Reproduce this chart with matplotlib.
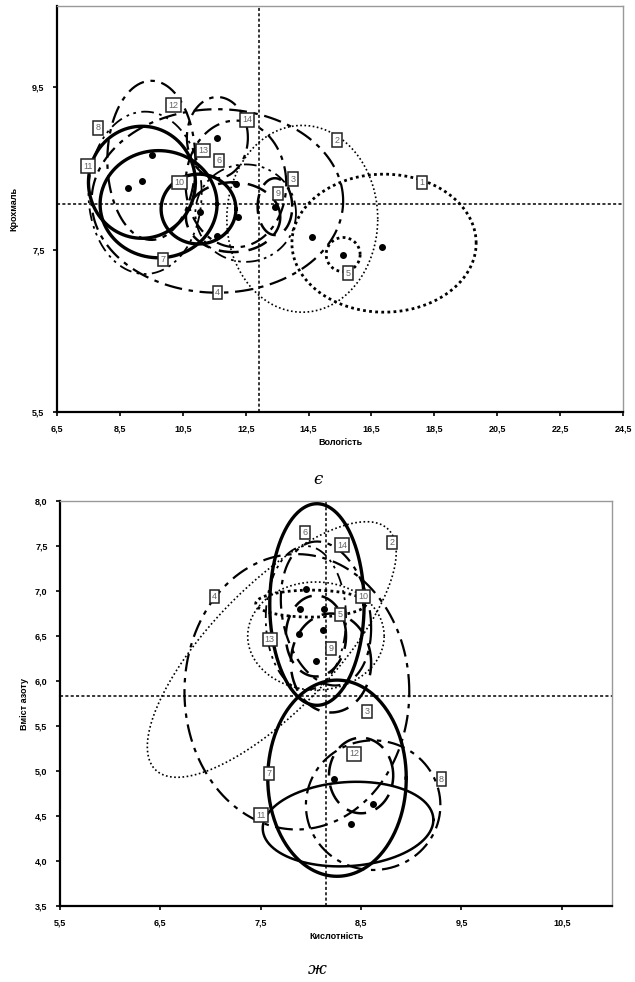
import matplotlib
matplotlib.use("Agg")
import matplotlib.pyplot as plt
import numpy as np
from matplotlib.ticker import FuncFormatter

plt.rcParams['font.family'] = ['Liberation Sans', 'DejaVu Sans']

# --- панель "є": вологість / крохмаль ---
top_ids = [1, 2, 3, 4, 5, 6, 7, 8, 9, 10, 11, 12, 13, 14]
top_cx = [16.9, 14.3, 12.5, 11.6, 15.6, 12.1, 9.73, 9.3, 13.43, 11.0, 9.2, 9.5, 12.19, 11.6]
top_cy = [7.58, 7.88, 7.95, 8.1, 7.44, 7.9, 8.06, 8.2, 8.03, 8.0, 8.33, 8.6, 8.31, 8.88]
top_sx = [2.93, 2.4, 1.6, 4.0, 0.54, 1.5, 1.86, 1.8, 0.55, 1.19, 1.7, 1.4, 1.6, 0.97]
top_sy = [0.85, 1.15, 0.6, 1.13, 0.21, 0.43, 0.66, 1.0, 0.35, 0.43, 0.69, 0.98, 0.78, 0.5]
top_r = [0, 0, 0, 0, 0, 0, 0, 0, 0, 0, 0, 0, 0, 0]
top_lab_x = [18.1, 15.4, 14.0, 11.6, 15.75, 11.65, 9.87, 7.8, 13.53, 10.4, 7.49, 10.2, 11.14, 12.54]
top_lab_y = [8.33, 8.85, 8.37, 6.97, 7.21, 8.6, 7.38, 9.0, 8.19, 8.33, 8.53, 9.28, 8.72, 9.1]
top_pt_x = [9.2, 9.52, 8.75, 11.59, 11.05, 12.19, 12.26, 11.59, 13.43, 14.6, 15.58, 16.83]
top_pt_y = [8.35, 8.66, 8.26, 8.88, 7.96, 8.31, 7.9, 7.67, 8.03, 7.66, 7.44, 7.53]
top_vline, top_hline = 12.93, 8.06

# --- панель "ж": кислотність / вміст азоту ---
bot_ids = [2, 3, 4, 5, 6, 7, 8, 9, 10, 11, 12, 13, 14]
bot_cx = [7.61, 8.2, 7.86, 8.0, 8.06, 8.26, 8.62, 8.05, 8.05, 8.37, 8.5, 7.95, 8.15]
bot_cy = [6.35, 6.2, 5.88, 6.86, 6.85, 4.92, 4.62, 6.5, 6.5, 4.41, 4.95, 6.7, 6.75]
bot_sx = [1.24, 0.4, 1.12, 0.55, 0.47, 0.69, 0.67, 0.3, 0.68, 0.85, 0.32, 0.4, 0.45]
bot_sy = [1.42, 0.55, 1.53, 0.15, 1.12, 1.09, 0.72, 0.45, 0.6, 0.47, 0.42, 0.8, 0.8]
bot_r = [0.76, 0, 0, 0, 0, 0, 0, 0, 0, 0.1, 0, 0, -0.2]
bot_lab_x = [8.81, 8.56, 7.04, 8.29, 7.94, 7.58, 9.3, 8.2, 8.52, 7.5, 8.43, 7.59, 8.31]
bot_lab_y = [7.54, 5.66, 6.94, 6.74, 7.65, 4.97, 4.91, 6.36, 6.94, 4.51, 5.19, 6.46, 7.51]
bot_pt_x = [7.95, 7.89, 7.88, 8.05, 8.13, 8.12, 8.23, 8.62, 8.40]
bot_pt_y = [7.02, 6.8, 6.52, 6.22, 6.8, 6.57, 4.91, 4.63, 4.41]
bot_vline, bot_hline = 8.15, 5.83

# стилі ліній для кожного номера
dotted_big = dict(ls=(0, (1, 1.2)), lw=2.0)
dotted_fine = dict(ls=(0, (1, 1.5)), lw=1.2)
dashdot = dict(ls=(0, (8, 3, 2, 3)), lw=1.6)
dashdotdot = dict(ls=(0, (7, 3, 1.5, 2.5, 1.5, 3)), lw=1.3)
dashed = dict(ls=(0, (8, 4)), lw=1.8)
solid = dict(ls='-', lw=2.4)
solid_mid = dict(ls='-', lw=1.8)

top_styles = {1: dotted_big, 2: dotted_fine, 3: dashdotdot, 4: dashdot, 5: dotted_big,
              6: dashed, 7: solid, 8: dashdotdot, 9: dashed, 10: solid, 11: solid,
              12: dashdot, 13: dashdot, 14: dashdot}
bot_styles = {2: dotted_fine, 3: dashed, 4: dashdot, 5: dotted_big, 6: solid, 7: solid,
              8: dashdot, 9: dashed, 10: dotted_fine, 11: solid_mid, 12: dashed,
              13: dashdotdot, 14: dashdot}


def ellipse_xy(cx, cy, sx, sy, r, n=300):
    t = np.linspace(0, 2 * np.pi, n)
    x = cx + sx * np.cos(t)
    y = cy + sy * (r * np.cos(t) + np.sqrt(1 - r * r) * np.sin(t))
    return x, y


comma = FuncFormatter(lambda v, p: ('%.1f' % v).replace('.', ','))


def draw_panel(ax, ids, cx, cy, sx, sy, rr, lx, ly, px, py, styles, vline, hline):
    for i, n in enumerate(ids):
        x, y = ellipse_xy(cx[i], cy[i], sx[i], sy[i], rr[i])
        ax.plot(x, y, color='black', **styles[n], zorder=3)
    ax.scatter(px, py, s=16, color='black', zorder=4)
    ax.axvline(vline, color='black', ls=(0, (2, 1.5)), lw=1.1, zorder=2)
    ax.axhline(hline, color='black', ls=(0, (2, 1.5)), lw=1.1, zorder=2)
    for i, n in enumerate(ids):
        ax.text(lx[i], ly[i], str(n), fontsize=6.5, color='#666666', ha='center', va='center',
                zorder=5, bbox=dict(boxstyle='square,pad=0.25', fc='white', ec='#222222', lw=1.1))
    for s in ['left', 'bottom']:
        ax.spines[s].set_linewidth(1.6)
    for s in ['top', 'right']:
        ax.spines[s].set_color('#999999')
        ax.spines[s].set_linewidth(1.0)
    ax.xaxis.set_major_formatter(comma)
    ax.yaxis.set_major_formatter(comma)
    ax.tick_params(length=3, width=1.2, labelsize=6.5, pad=6)
    for lab in ax.get_xticklabels() + ax.get_yticklabels():
        lab.set_fontweight('bold')


fig = plt.figure(figsize=(6.35, 9.82), dpi=100)

ax1 = fig.add_axes([0.0898, 0.5804, 0.8913, 0.4134])
draw_panel(ax1, top_ids, top_cx, top_cy, top_sx, top_sy, top_r, top_lab_x, top_lab_y,
           top_pt_x, top_pt_y, top_styles, top_vline, top_hline)
ax1.set_xlim(6.5, 24.5)
ax1.set_ylim(5.5, 10.5)
ax1.set_xticks(np.arange(6.5, 24.6, 2))
ax1.set_yticks([5.5, 7.5, 9.5])
ax1.set_xlabel('Вологість', fontsize=6.5, fontweight='bold', labelpad=3)
ax1.set_ylabel('Крохмаль', fontsize=6.5, fontweight='bold', labelpad=10)
fig.text(0.50, 1 - 480 / 982, 'є', fontsize=12, style='italic', family='DejaVu Serif',
         ha='center', va='center')

ax2 = fig.add_axes([0.0945, 0.0774, 0.8693, 0.4124])
draw_panel(ax2, bot_ids, bot_cx, bot_cy, bot_sx, bot_sy, bot_r, bot_lab_x, bot_lab_y,
           bot_pt_x, bot_pt_y, bot_styles, bot_vline, bot_hline)
ax2.set_xlim(5.5, 11.0)
ax2.set_ylim(3.5, 8.0)
ax2.set_xticks(np.arange(5.5, 10.6, 1))
ax2.set_yticks(np.arange(3.5, 8.01, 0.5))
ax2.set_xlabel('Кислотність', fontsize=6.5, fontweight='bold', labelpad=3)
ax2.set_ylabel('Вміст азоту', fontsize=6.5, fontweight='bold', labelpad=4)
fig.text(0.50, 1 - 970 / 982, 'ж', fontsize=12, style='italic', family='DejaVu Serif',
         ha='center', va='center')

fig.savefig('out.png', dpi=100)
